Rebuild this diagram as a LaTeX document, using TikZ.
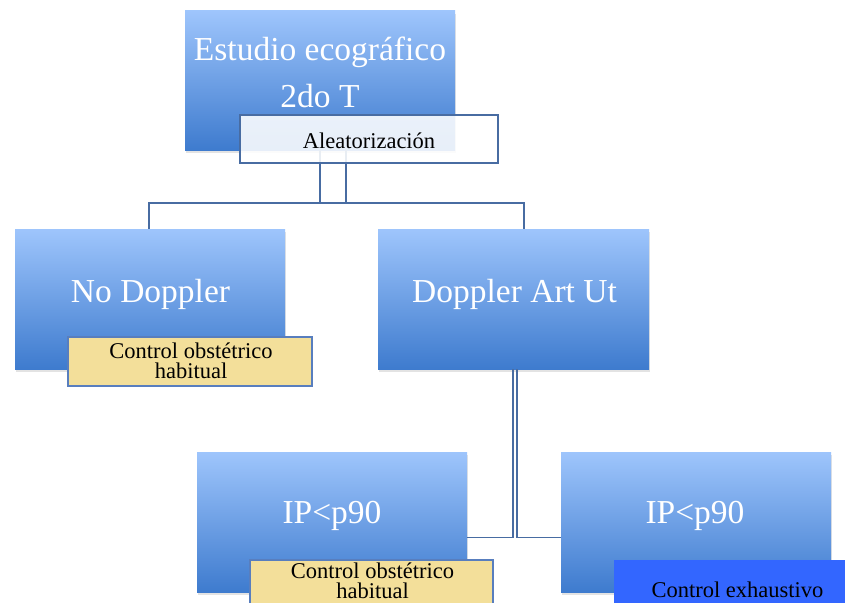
\documentclass[tikz,border=0pt]{standalone}
\usepackage{fontspec}
\setmainfont{Liberation Serif}
\usetikzlibrary{shadows}
\definecolor{boxtop}{RGB}{158,197,252}
\definecolor{boxbot}{RGB}{62,123,206}
\definecolor{conn}{RGB}{72,108,162}
\definecolor{yel}{RGB}{243,223,154}
\definecolor{ybord}{RGB}{88,126,190}
\definecolor{exh}{RGB}{51,102,255}
\begin{document}
\begin{tikzpicture}[x=1pt,y=-1pt,
  bluebox/.style={draw=none, inner sep=0pt, outer sep=0pt,
    minimum width=270pt, minimum height=140pt,
    top color=boxtop, bottom color=boxbot,
    drop shadow={opacity=0.22, shadow xshift=1pt, shadow yshift=-3pt}},
  bigtxt/.style={anchor=base, inner sep=0pt, text=white, font=\fontsize{33.5}{40}\selectfont},
  smalltxt/.style={anchor=base, inner sep=0pt, text=black, font=\fontsize{22.5}{24}\selectfont},
  twoline/.style={anchor=center, inner sep=0pt, text=black, align=center,
    font=\fontsize{22.5}{20}\selectfont},
  notebox/.style={inner sep=0pt, outer sep=0pt, minimum width=244pt, minimum height=49pt},
  yelbox/.style={notebox, fill=yel, draw=ybord, line width=1.6pt},
  connline/.style={draw=conn, line width=1.8pt}
]
\useasboundingbox (0,0) rectangle (845,602);
\clip (0,0) rectangle (845,602);
\fill[white] (0,0) rectangle (845,602);

% blue boxes
\node[bluebox, minimum height=139pt] (top) at (320,80.5) {};
\node[bluebox] (nod) at (150,299) {};
\node[bluebox, minimum width=271pt] (dop) at (513.5,299) {};
\node[bluebox] (ipl) at (332,522) {};
\node[bluebox] (ipr) at (696,522) {};

% connectors
\coordinate (ta) at (320,150);
\coordinate (tb) at (346,150);
\coordinate (bus) at (0,203);
\coordinate (nd) at (149,229);
\coordinate (dd) at (524,229);
\draw[connline] (ta) -- (ta |- bus) -| (dd);
\draw[connline] (tb) -- (tb |- bus) -| (nd);
\coordinate (da) at (513.3,369);
\coordinate (db) at (517.3,369);
\coordinate (bus2) at (0,537.5);
\draw[connline] (da) -- (da |- bus2) -- (ipl.east |- bus2);
\draw[connline] (db) -- (db |- bus2) -- (ipr.west |- bus2);

% randomisation box
\node[notebox, minimum width=258pt, minimum height=48pt, fill=white, fill opacity=0.88,
      draw=conn, line width=1.8pt] (alea) at (369,139) {};

% note boxes
\node[yelbox] (y1) at (190,361.5) {};
\node[yelbox, minimum width=243pt] (y2) at (371.5,584.5) {};
\node[notebox, minimum width=246pt, fill=exh] (ex) at (737,584.5) {};

% texts
\node[bigtxt] (t1) at (320,60) {Estudio ecográfico};
\node[bigtxt] (t2) at (320,107) {2do T};
\node[smalltxt] (ta1) at (369,148) {Aleatorización};
\node[bigtxt] (tn) at (150.5,302) {No Doppler};
\node[bigtxt] (td) at (514.5,302) {Doppler Art Ut};
\node[twoline] (ty1) at (191,360.5) {Control obstétrico\\habitual};
\node[bigtxt] (til) at (332,523) {IP<p90};
\node[bigtxt] (tir) at (695,523) {IP<p90};
\node[twoline] (ty2) at (372.5,580.5) {Control obstétrico\\habitual};
\node[smalltxt] (tex) at (737.5,597) {Control exhaustivo};
\end{tikzpicture}
\end{document}
